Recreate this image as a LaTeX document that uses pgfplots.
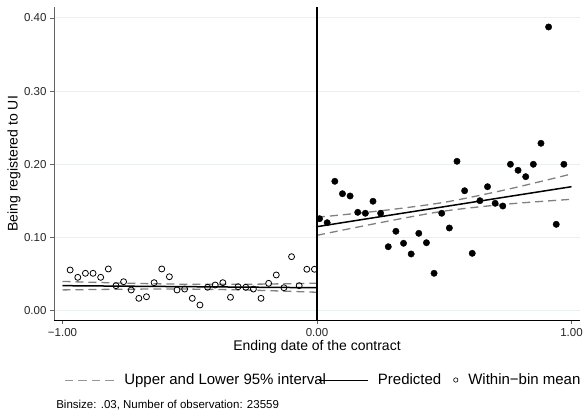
\documentclass[border=0pt]{standalone}
\usepackage{fontspec}
\setmainfont{Liberation Sans}
\usepackage{pgfplots}
\pgfplotsset{compat=1.18}
\usepackage{pgfplotstable}

\definecolor{gridc}{RGB}{232,240,241}
\definecolor{cigray}{RGB}{128,128,128}
\definecolor{leggray}{RGB}{150,150,150}
\definecolor{spinegray}{RGB}{100,100,100}

% within-bin means, left of the cutoff
\pgfplotstableread{
x y
-0.97 0.0556
-0.94 0.0456
-0.91 0.0511
-0.88 0.0511
-0.85 0.0456
-0.82 0.0570
-0.79 0.0342
-0.76 0.0396
-0.73 0.0283
-0.70 0.0169
-0.67 0.0191
-0.64 0.0383
-0.61 0.0570
-0.58 0.0464
-0.55 0.0283
-0.52 0.0296
-0.49 0.0169
-0.46 0.0078
-0.43 0.0320
-0.40 0.0351
-0.37 0.0383
-0.34 0.0183
-0.31 0.0328
-0.28 0.0320
-0.25 0.0296
-0.22 0.0169
-0.19 0.0374
-0.16 0.0488
-0.13 0.0314
-0.10 0.0738
-0.07 0.0342
-0.04 0.0566
-0.01 0.0566
}\leftbins

% within-bin means, right of the cutoff
\pgfplotstableread{
x y
0.01 0.1257
0.04 0.1202
0.07 0.1768
0.10 0.1598
0.13 0.1567
0.16 0.1344
0.19 0.1331
0.22 0.1495
0.25 0.1331
0.28 0.0874
0.31 0.1085
0.34 0.0921
0.37 0.0775
0.40 0.1057
0.43 0.0929
0.46 0.0511
0.49 0.1331
0.52 0.1130
0.55 0.2041
0.58 0.1639
0.61 0.0784
0.64 0.1503
0.67 0.1694
0.70 0.1467
0.73 0.1430
0.76 0.2000
0.79 0.1918
0.82 0.1831
0.85 0.2000
0.88 0.2287
0.91 0.3876
0.94 0.1180
0.97 0.2000
}\rightbins

% linear fits with 95% bands
\pgfplotstableread{
x pred up lo
-1.00 0.0342 0.0400 0.0284
-0.75 0.0335 0.0376 0.0294
-0.50 0.0328 0.0361 0.0295
-0.25 0.0321 0.0362 0.0280
0.00 0.0314 0.0376 0.0252
}\leftfit
\pgfplotstableread{
x pred up lo
0.00 0.1148 0.1276 0.1030
0.25 0.1285 0.1365 0.1204
0.50 0.1421 0.1481 0.1361
0.75 0.1558 0.1659 0.1457
1.00 0.1694 0.1868 0.1522
}\rightfit

\begin{document}
\begin{tikzpicture}
\begin{axis}[
  scale only axis,
  width=526pt, height=312.5pt,
  xmin=-1.0334, xmax=1.0334,
  ymin=-0.0127, ymax=0.4142,
  axis x line*=bottom, axis y line*=left,
  x axis line style={black, line width=0.9pt, -},
  y axis line style={spinegray, line width=0.9pt, -},
  xtick={-1,0,1},
  xticklabels={−1.00,0.00,1.00},
  ytick={0,0.1,0.2,0.3,0.4},
  yticklabels={0.00,0.10,0.20,0.30,0.40},
  tick align=outside,
  major tick length=4pt,
  every tick/.style={spinegray, line width=0.7pt},
  ymajorgrids,
  grid style={gridc, line width=0.9pt},
  tick label style={font=\fontsize{11.5}{13}\selectfont, text=black!85},
  xticklabel style={yshift=-1pt},
  xlabel={Ending date of the contract},
  ylabel={Being registered to UI},
  every axis x label/.style={at={(axis description cs:0.5,-0.0864)}, anchor=center,
    font=\fontsize{14}{16}\selectfont},
  every axis y label/.style={at={(axis description cs:-0.076,0.5)}, anchor=center, rotate=90,
    font=\fontsize{14}{16}\selectfont},
  clip=false,
  legend style={draw=none, fill=none,
    at={(axis description cs:0.5124,-0.192)}, anchor=center,
    font=\fontsize{15}{17}\selectfont,
    legend columns=-1,
    /tikz/every odd column/.append style={column sep=8pt},
    /tikz/column 2/.style={column sep=-10pt},
    /tikz/column 4/.style={column sep=10pt}},
]
\coordinate (ll) at (rel axis cs:0,0);
\coordinate (ur) at (rel axis cs:1,1);

\addlegendimage{legend image code/.code={
  \draw[leggray, line width=0.7pt, dash pattern=on 8.5pt off 5pt] (0pt,0pt) -- (49pt,0pt);}}
\addlegendentry{Upper and Lower 95\% interval}
\addlegendimage{legend image code/.code={
  \draw[black, line width=0.8pt] (0pt,0pt) -- (49pt,0pt);}}
\addlegendentry{Predicted}
\addlegendimage{legend image code/.code={
  \draw[black, line width=0.6pt, fill=white] (2.3pt,0pt) circle (2.2pt);}}
\addlegendentry{Within−bin mean}

% confidence bands
\addplot[cigray, line width=1.3pt, dash pattern=on 8pt off 5pt, smooth, forget plot] table[x=x,y=up] {\leftfit};
\addplot[cigray, line width=1.3pt, dash pattern=on 8pt off 5pt, smooth, forget plot] table[x=x,y=lo] {\leftfit};
\addplot[cigray, line width=1.3pt, dash pattern=on 8pt off 5pt, smooth, forget plot] table[x=x,y=up] {\rightfit};
\addplot[cigray, line width=1.3pt, dash pattern=on 8pt off 5pt, smooth, forget plot] table[x=x,y=lo] {\rightfit};
% fitted lines
\addplot[black, line width=1.5pt, forget plot] table[x=x,y=pred] {\leftfit};
\addplot[black, line width=1.5pt, forget plot] table[x=x,y=pred] {\rightfit};
% bin means
\addplot[only marks, mark=o, mark size=3pt, mark options={black, fill=white, line width=0.8pt}, forget plot] table[x=x,y=y] {\leftbins};
\addplot[only marks, mark=*, mark size=3.2pt, mark options={black, fill=black}, forget plot] table[x=x,y=y] {\rightbins};
% cutoff
\addplot[black, line width=1.6pt, forget plot] coordinates {(0,-0.0127) (0,0.4142)};

\node[anchor=west, inner sep=0pt, font=\fontsize{11.5}{13}\selectfont] at (axis description cs:0.004,-0.272)
  {Binsize: .03, Number of observation: 23559};
\end{axis}
\pgfresetboundingbox
\path[use as bounding box] ([xshift=-54pt,yshift=-92pt]ll) rectangle ([xshift=6pt,yshift=7.5pt]ur);
\end{tikzpicture}
\end{document}
